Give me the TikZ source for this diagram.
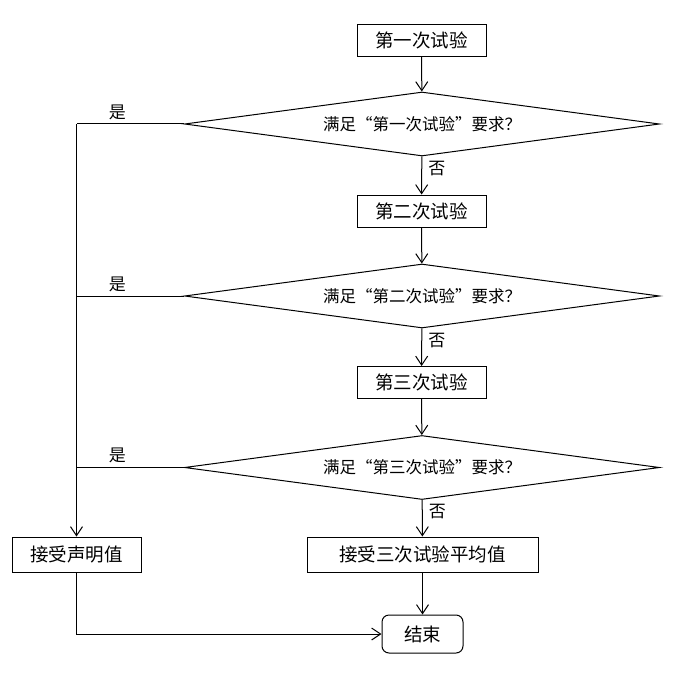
\documentclass[tikz,border=0pt]{standalone}
\usepackage{fontspec}
\setmainfont{Noto Sans CJK SC}
\usetikzlibrary{shapes.geometric,arrows.meta}

\tikzset{
  stepbox/.style={draw, line width=1pt, minimum width=129pt, minimum height=32pt,
    inner sep=0pt, font=\fontsize{18.5}{19}\selectfont},
  testbox/.style={draw, line width=1pt, diamond, aspect=7.4, minimum width=475pt,
    minimum height=64pt, inner sep=0pt, font=\fontsize{16.5}{17}\selectfont},
  flow/.style={line width=1pt, -{Straight Barb[length=9pt,width=12pt]}},
  link/.style={line width=1pt},
  lbl/.style={font=\fontsize{17}{17}\selectfont, inner sep=2pt},
}

\begin{document}
\begin{tikzpicture}[x=1pt,y=-1pt]
        \useasboundingbox (0,0) rectangle (677,679);
        % trials and checks
        \node [stepbox] (t1) at (421.5,40.5) {第一次试验};
        \node [testbox] (q1) at (422,124) {满足“第一次试验”要求？};
        \node [stepbox] (t2) at (421.5,211) {第二次试验};
        \node [testbox] (q2) at (422,296) {满足“第二次试验”要求？};
        \node [stepbox] (t3) at (421.5,382.5) {第三次试验};
        \node [testbox] (q3) at (422,467.5) {满足“第三次试验”要求？};
        % results
        \node [stepbox, minimum width=231pt, minimum height=35pt] (avg) at (422.5,554.5) {接受三次试验平均值};
        \node [stepbox, minimum height=35pt] (decl) at (76.5,554.5) {接受声明值};
        \node [stepbox, rounded corners=7pt, minimum width=81pt, minimum height=38pt] (stop) at (422.5,634) {结束};
        % down the middle
        \draw [flow] (t1) -- (q1);
        \draw [flow] (q1) -- node [lbl, right, pos=0.32, xshift=4pt] {否} (t2);
        \draw [flow] (t2) -- (q2);
        \draw [flow] (q2) -- node [lbl, right, pos=0.32, xshift=4pt] {否} (t3);
        \draw [flow] (t3) -- (q3);
        \draw [flow] (q3) -- node [lbl, right, pos=0.32, xshift=4pt] {否} (avg);
        \draw [flow] (avg) -- (stop);
        % yes branches on the left
        \draw [link] (q1.west) -- node [lbl, above, pos=0.62, yshift=2pt] {是} (q1.west -| decl.north);
        \draw [link] (q2.west) -- node [lbl, above, pos=0.62, yshift=2pt] {是} (q2.west -| decl.north);
        \draw [link] (q3.west) -- node [lbl, above, pos=0.62, yshift=2pt] {是} (q3.west -| decl.north);
        \draw [flow] (q1.west -| decl.north) -- (decl.north);
        \draw [flow] (decl.south) |- (stop.west);
\end{tikzpicture}
\end{document}
